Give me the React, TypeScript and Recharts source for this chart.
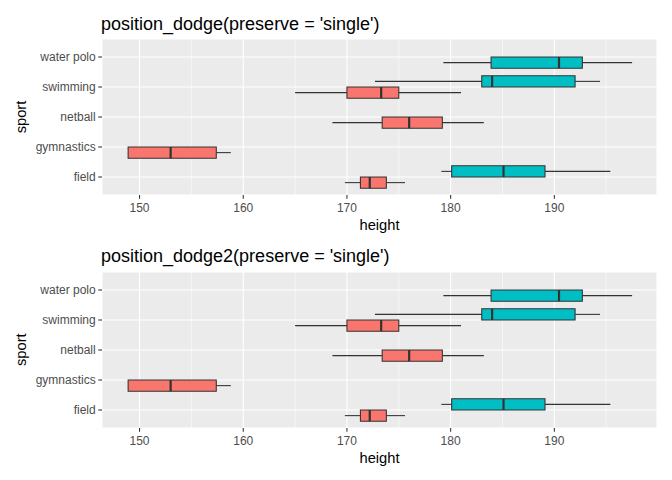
import React from 'react';
import {
  ComposedChart,
  XAxis,
  YAxis,
  CartesianGrid,
  ReferenceArea,
  ReferenceLine,
  Scatter,
} from 'recharts';

// ---- data ----
const sports = ['field', 'gymnastics', 'netball', 'swimming', 'water polo'];
// [min, q1, median, q3, max] per sport; null = no box
const femaleStats: (number[] | null)[] = [
  [169.8, 171.3, 172.2, 173.8, 175.6],
  [148.9, 148.9, 153.0, 157.4, 158.8],
  [168.6, 173.4, 176.0, 179.2, 183.2],
  [165.0, 170.0, 173.3, 175.0, 181.0],
  null,
];
const maleStats: (number[] | null)[] = [
  [179.1, 180.1, 185.1, 189.1, 195.4],
  null,
  null,
  [172.7, 183.0, 184.0, 192.0, 194.4],
  [179.3, 183.9, 190.45, 192.7, 197.5],
];
const xTicks = [150, 160, 170, 180, 190];
const xMinorTicks = [155, 165, 175, 185, 195];
const xDomain = [146.38, 199.9];
const titles = ["position_dodge(preserve = 'single')", "position_dodge2(preserve = 'single')"];

const RED = '#F8766D';
const CYAN = '#00BFC4';
const INK = '#333333';
const FONT = '"Liberation Sans", Arial, sans-serif';

type Box = { stats: number[]; center: number; half: number; fill: string };

function buildBoxes(): Box[] {
  const boxes: Box[] = [];
  const half = 0.1875;
  sports.forEach((_, i) => {
    const pos = i + 1;
    const f = femaleStats[i];
    const m = maleStats[i];
    const both = f && m;
    if (f) boxes.push({ stats: f, center: pos - half, half, fill: RED });
    if (m) boxes.push({ stats: m, center: both ? pos + half : pos - half, half, fill: CYAN });
  });
  return boxes;
}

function Panel({ top, axisH }: { top: number; axisH: number }) {
  const boxes = buildBoxes();
  const pts = boxes.map((b) => ({ x: b.stats[2], y: b.center }));
  return (
    <ComposedChart
      width={672}
      height={240}
      margin={{ top, right: 15, bottom: 0, left: 0 }}
      style={{ fontFamily: FONT }}
    >
      <CartesianGrid fill="#EBEBEB" stroke="#FFFFFF" strokeWidth={1.07} />
      <CartesianGrid
        horizontal={false}
        verticalValues={xMinorTicks}
        stroke="#FFFFFF"
        strokeWidth={0.53}
      />
      <XAxis
        type="number"
        dataKey="x"
        domain={xDomain}
        allowDataOverflow
        ticks={xTicks}
        height={axisH}
        axisLine={false}
        tickSize={3.7}
        tickMargin={4.6}
        tickLine={{ stroke: INK, strokeWidth: 1.07 }}
        tick={{ fill: '#4D4D4D', fontSize: 12 }}
      />
      <YAxis
        type="number"
        dataKey="y"
        domain={[0.4, 5.6]}
        allowDataOverflow
        ticks={[1, 2, 3, 4, 5]}
        tickFormatter={(v: number) => sports[v - 1] ?? ''}
        width={102}
        axisLine={false}
        tickSize={3.7}
        tickMargin={2.6}
        tickLine={{ stroke: INK, strokeWidth: 1.07 }}
        tick={{ fill: '#4D4D4D', fontSize: 12 }}
      />
      {boxes.map((b, k) => (
        <ReferenceLine
          key={'wl' + k}
          segment={[
            { x: b.stats[0], y: b.center },
            { x: b.stats[1], y: b.center },
          ]}
          stroke={INK}
          strokeWidth={1.07}
        />
      ))}
      {boxes.map((b, k) => (
        <ReferenceLine
          key={'wr' + k}
          segment={[
            { x: b.stats[3], y: b.center },
            { x: b.stats[4], y: b.center },
          ]}
          stroke={INK}
          strokeWidth={1.07}
        />
      ))}
      {boxes.map((b, k) => (
        <ReferenceArea
          key={'bx' + k}
          x1={b.stats[1]}
          x2={b.stats[3]}
          y1={b.center - b.half}
          y2={b.center + b.half}
          fill={b.fill}
          fillOpacity={1}
          stroke={INK}
          strokeWidth={1.07}
        />
      ))}
      {boxes.map((b, k) => (
        <ReferenceLine
          key={'md' + k}
          segment={[
            { x: b.stats[2], y: b.center - b.half },
            { x: b.stats[2], y: b.center + b.half },
          ]}
          stroke={INK}
          strokeWidth={2.2}
        />
      ))}
      <Scatter data={pts} isAnimationActive={false} shape={() => <g />} />
    </ComposedChart>
  );
}

export default function App() {
  return (
    <div style={{ position: 'absolute', left: 0, top: 0, width: 672, height: 480, background: '#fff', fontFamily: FONT }}>
      <div style={{ position: 'absolute', left: 0, top: 0 }}>
        <Panel top={39} axisH={45} />
      </div>
      <div style={{ position: 'absolute', left: 0, top: 240 }}>
        <Panel top={32} axisH={52} />
      </div>
      <svg
        width={672}
        height={480}
        style={{ position: 'absolute', left: 0, top: 0, pointerEvents: 'none' }}
      >
        <g fontFamily={FONT}>
          <text x={101} y={29.5} fontSize={18} fill="#000">{titles[0]}</text>
          <text x={101} y={261.7} fontSize={18} fill="#000">{titles[1]}</text>
          <text x={379.5} y={230} fontSize={14.7} textAnchor="middle" fill="#000">height</text>
          <text x={379.5} y={462.7} fontSize={14.7} textAnchor="middle" fill="#000">height</text>
          <text transform="translate(26,117) rotate(-90)" fontSize={14.7} textAnchor="middle" fill="#000">sport</text>
          <text transform="translate(26,349.7) rotate(-90)" fontSize={14.7} textAnchor="middle" fill="#000">sport</text>
        </g>
      </svg>
    </div>
  );
}
